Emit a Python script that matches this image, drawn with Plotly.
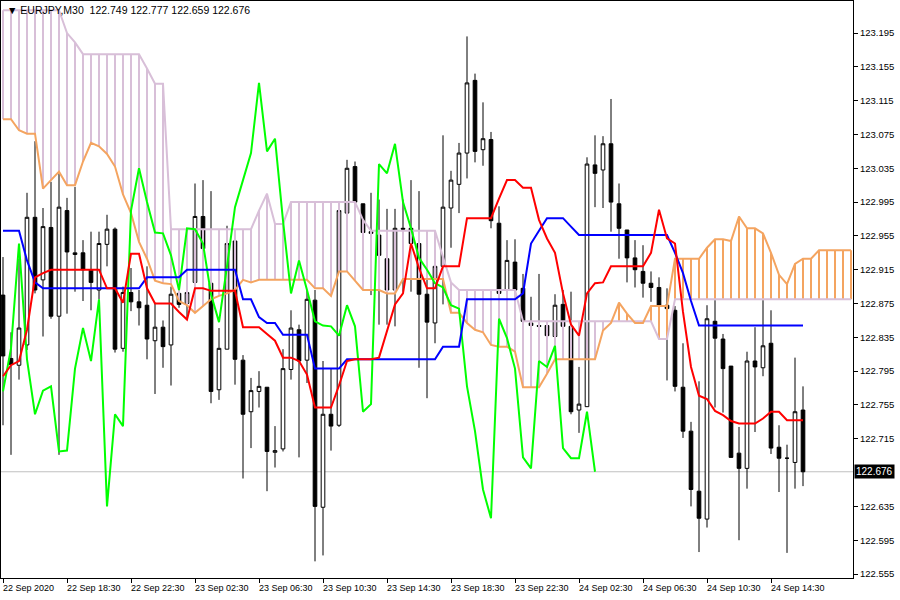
import plotly.graph_objects as go

# ---------------- data ----------------
tick_labels = ["22 Sep 2020", "22 Sep 18:30", "22 Sep 22:30", "23 Sep 02:30", "23 Sep 06:30",
               "23 Sep 10:30", "23 Sep 14:30", "23 Sep 18:30", "23 Sep 22:30", "24 Sep 02:30",
               "24 Sep 06:30", "24 Sep 10:30", "24 Sep 14:30"]
tick_bars = [0, 8, 16, 24, 32, 40, 48, 56, 64, 72, 80, 88, 96]

opens = [122.885, 122.810, 122.802, 122.826, 122.977, 122.903, 122.965, 122.860, 122.985, 122.933,
         122.935, 122.915, 122.891, 122.945, 122.963, 122.822, 122.888, 122.877, 122.873, 122.831,
         122.847, 122.826, 122.887, 122.875, 122.900, 122.978, 122.899, 122.773, 122.821, 122.949,
         122.808, 122.747, 122.771, 122.776, 122.699, 122.703, 122.797, 122.844, 122.808, 122.879,
         122.634, 122.744, 122.731, 122.982, 123.037, 122.993, 122.960, 122.956, 122.928, 122.891,
         122.964, 122.964, 122.946, 122.886, 122.852, 122.919, 122.988, 123.016, 123.053, 123.139,
         123.057, 123.069, 122.970, 122.891, 122.924, 122.893, 122.852, 122.849, 122.849, 122.836,
         122.874, 122.848, 122.749, 122.753, 123.039, 123.033, 123.064, 122.993, 122.962, 122.929,
         122.913, 122.899, 122.894, 122.873, 122.867, 122.776, 122.724, 122.653, 122.620, 122.854,
         122.833, 122.801, 122.698, 122.680, 122.807, 122.799, 122.828, 122.705, 122.692, 122.687,
         122.749]
highs = [122.930, 122.841, 122.928, 123.006, 123.067, 122.988, 123.019, 123.030, 123.000, 123.013,
         122.950, 122.960, 122.960, 122.980, 122.965, 122.895, 122.917, 122.891, 122.919, 122.876,
         122.855, 122.895, 122.902, 122.902, 123.017, 123.021, 123.008, 122.846, 122.967, 122.950,
         122.814, 122.787, 122.795, 122.776, 122.730, 122.821, 122.867, 122.850, 122.891, 122.891,
         122.807, 122.798, 122.985, 123.045, 123.043, 122.993, 123.006, 122.998, 122.987, 122.987,
         122.998, 123.021, 123.008, 122.946, 122.932, 123.074, 123.032, 123.065, 123.191, 123.147,
         123.113, 123.078, 122.990, 122.950, 122.951, 122.910, 122.883, 122.910, 122.852, 122.886,
         122.891, 122.889, 122.800, 123.048, 123.074, 123.073, 123.117, 123.017, 122.962, 122.950,
         122.944, 122.913, 122.906, 122.893, 122.872, 122.828, 122.735, 122.783, 122.873, 122.879,
         122.839, 122.801, 122.729, 122.818, 122.847, 122.879, 122.867, 122.731, 122.708, 122.811,
         122.777]
lows = [122.731, 122.696, 122.785, 122.820, 122.887, 122.836, 122.857, 122.696, 122.863, 122.889,
        122.878, 122.867, 122.880, 122.919, 122.817, 122.818, 122.866, 122.849, 122.809, 122.768,
        122.799, 122.778, 122.870, 122.858, 122.891, 122.874, 122.757, 122.761, 122.821, 122.779,
        122.668, 122.704, 122.752, 122.653, 122.681, 122.700, 122.785, 122.693, 122.781, 122.570,
        122.577, 122.701, 122.729, 122.982, 122.993, 122.956, 122.885, 122.850, 122.850, 122.848,
        122.889, 122.889, 122.799, 122.763, 122.828, 122.874, 122.941, 122.982, 123.023, 123.042,
        123.038, 122.964, 122.887, 122.891, 122.891, 122.854, 122.849, 122.807, 122.836, 122.836,
        122.848, 122.744, 122.722, 122.753, 122.989, 122.988, 122.960, 122.928, 122.900, 122.894,
        122.882, 122.877, 122.872, 122.784, 122.771, 122.716, 122.635, 122.581, 122.610, 122.752,
        122.746, 122.693, 122.595, 122.656, 122.723, 122.789, 122.697, 122.652, 122.580, 122.656,
        122.659]
closes = [122.813, 122.803, 122.846, 122.977, 122.891, 122.966, 122.860, 122.989, 122.936, 122.935,
          122.915, 122.900, 122.946, 122.963, 122.821, 122.888, 122.877, 122.870, 122.833, 122.847,
          122.824, 122.886, 122.874, 122.888, 122.978, 122.940, 122.771, 122.822, 122.946, 122.809,
          122.744, 122.772, 122.777, 122.700, 122.701, 122.798, 122.846, 122.807, 122.880, 122.635,
          122.744, 122.730, 122.985, 123.035, 122.995, 122.959, 122.958, 122.932, 122.891, 122.964,
          122.963, 122.946, 122.886, 122.853, 122.919, 122.989, 123.021, 123.053, 123.136, 123.055,
          123.070, 122.973, 122.887, 122.926, 122.891, 122.854, 122.849, 122.848, 122.837, 122.873,
          122.848, 122.747, 122.756, 123.040, 123.029, 123.064, 122.995, 122.964, 122.929, 122.915,
          122.899, 122.894, 122.873, 122.869, 122.777, 122.724, 122.655, 122.621, 122.857, 122.834,
          122.798, 122.693, 122.680, 122.807, 122.800, 122.825, 122.704, 122.692, 122.692, 122.747,
          122.676]

tenkan = [122.789, 122.802, 122.807, 122.844, 122.906, 122.911, 122.915, 122.915, 122.915, 122.915,
          122.915, 122.915, 122.915, 122.893, 122.893, 122.876, 122.934, 122.934, 122.893, 122.875,
          122.875, 122.875, 122.865, 122.856, 122.893, 122.893, 122.890, 122.890, 122.890, 122.890,
          122.847, 122.847, 122.847, 122.839, 122.831, 122.811, 122.811, 122.807, 122.791, 122.752,
          122.752, 122.752, 122.778, 122.807, 122.809, 122.809, 122.809, 122.811, 122.844, 122.874,
          122.887, 122.946, 122.917, 122.893, 122.893, 122.919, 122.919, 122.919, 122.976, 122.976,
          122.976, 122.976, 122.999, 123.021, 123.021, 123.012, 123.012, 122.974, 122.952, 122.935,
          122.887, 122.850, 122.837, 122.887, 122.899, 122.900, 122.919, 122.919, 122.919, 122.919,
          122.919, 122.935, 122.986, 122.952, 122.946, 122.865, 122.800, 122.766, 122.762, 122.748,
          122.743, 122.736, 122.733, 122.733, 122.733, 122.739, 122.747, 122.747, 122.737, 122.737,
          122.737]
kijun = [122.961, 122.961, 122.961, 122.926, 122.900, 122.893, 122.893, 122.893, 122.893, 122.893,
         122.893, 122.893, 122.893, 122.893, 122.893, 122.893, 122.893, 122.893, 122.906, 122.906,
         122.906, 122.906, 122.906, 122.915, 122.915, 122.915, 122.915, 122.915, 122.915, 122.915,
         122.880, 122.880, 122.859, 122.852, 122.852, 122.838, 122.838, 122.838, 122.838, 122.798,
         122.798, 122.798, 122.798, 122.809, 122.809, 122.809, 122.809, 122.809, 122.809, 122.809,
         122.809, 122.809, 122.809, 122.809, 122.809, 122.824, 122.824, 122.824, 122.880, 122.880,
         122.880, 122.880, 122.880, 122.880, 122.880, 122.887, 122.946, 122.961, 122.976, 122.976,
         122.976, 122.966, 122.956, 122.956, 122.956, 122.956, 122.956, 122.956, 122.956, 122.956,
         122.956, 122.956, 122.956, 122.956, 122.935, 122.911, 122.878, 122.849, 122.849, 122.849,
         122.849, 122.849, 122.849, 122.849, 122.849, 122.849, 122.849, 122.849, 122.849, 122.849,
         122.849]
span_a = [123.093, 123.093, 123.080, 123.076, 123.076, 123.011, 123.021, 123.031, 123.015, 123.015,
          123.043, 123.065, 123.061, 123.052, 123.037, 123.004, 122.982, 122.948, 122.928, 122.902,
          122.899, 122.898, 122.878, 122.873, 122.864, 122.872, 122.880, 122.884, 122.887, 122.891,
          122.903, 122.900, 122.903, 122.903, 122.903, 122.903, 122.903, 122.903, 122.903, 122.893,
          122.893, 122.884, 122.913, 122.913, 122.902, 122.891, 122.891, 122.891, 122.887, 122.887,
          122.904, 122.904, 122.904, 122.904, 122.904, 122.904, 122.864, 122.864, 122.852, 122.844,
          122.841, 122.826, 122.824, 122.824, 122.818, 122.776, 122.776, 122.776, 122.792, 122.809,
          122.809, 122.809, 122.809, 122.809, 122.809, 122.843, 122.852, 122.876, 122.863, 122.852,
          122.852, 122.872, 122.872, 122.872, 122.928, 122.928, 122.928, 122.928, 122.941, 122.951,
          122.951, 122.949, 122.978, 122.964, 122.964, 122.958, 122.935, 122.909, 122.898, 122.922,
          122.928, 122.928, 122.938, 122.938, 122.938, 122.938, 122.938]
span_b = [123.222, 123.222, 123.222, 123.222, 123.222, 123.222, 123.222, 123.222, 123.195, 123.184,
          123.170, 123.170, 123.170, 123.170, 123.170, 123.170, 123.170, 123.170, 123.153, 123.135,
          123.135, 122.963, 122.963, 122.963, 122.963, 122.963, 122.963, 122.963, 122.963, 122.963,
          122.963, 122.963, 122.985, 123.005, 122.969, 122.969, 122.995, 122.995, 122.995, 122.995,
          122.995, 122.995, 122.995, 122.995, 122.995, 122.974, 122.961, 122.961, 122.961, 122.961,
          122.961, 122.961, 122.961, 122.961, 122.961, 122.930, 122.900, 122.891, 122.891, 122.891,
          122.891, 122.891, 122.891, 122.891, 122.891, 122.854, 122.854, 122.854, 122.854, 122.854,
          122.854, 122.854, 122.854, 122.854, 122.854, 122.854, 122.854, 122.854, 122.854, 122.854,
          122.854, 122.854, 122.833, 122.833, 122.880, 122.880, 122.880, 122.880, 122.880, 122.880,
          122.880, 122.880, 122.880, 122.880, 122.880, 122.880, 122.880, 122.880, 122.880, 122.880,
          122.880, 122.880, 122.880, 122.880, 122.880, 122.880, 122.880]
price_ticks = [123.195, 123.155, 123.115, 123.075, 123.035, 122.995, 122.955, 122.915, 122.875,
               122.835, 122.795, 122.755, 122.715, 122.635, 122.595, 122.555]
last_price = 122.676
header = "▼ EURJPY,M30  122.749 122.777 122.659 122.676"
chikou_shift = 26

# ---------------- figure ----------------
bars = list(range(len(closes)))
cloud_x = list(range(len(span_a)))

hx_b, hy_b, hx_a, hy_a = [], [], [], []
for i, (a, b) in enumerate(zip(span_a, span_b)):
    if b > a:
        hx_b += [i, i, None]; hy_b += [a, b, None]
    else:
        hx_a += [i, i, None]; hy_a += [b, a, None]

SANDY = "#F4A460"
THISTLE = "#D8BFD8"

fig = go.Figure()
fig.add_trace(go.Scatter(x=hx_b, y=hy_b, mode="lines", line=dict(color=THISTLE, width=2), hoverinfo="skip"))
fig.add_trace(go.Scatter(x=hx_a, y=hy_a, mode="lines", line=dict(color=SANDY, width=2), hoverinfo="skip"))
fig.add_trace(go.Scatter(x=cloud_x, y=span_b, mode="lines", line=dict(color=THISTLE, width=2)))
fig.add_trace(go.Scatter(x=cloud_x, y=span_a, mode="lines", line=dict(color=SANDY, width=2)))
fig.add_trace(go.Candlestick(
    x=bars, open=opens, high=highs, low=lows, close=closes,
    increasing=dict(line=dict(color="black", width=1), fillcolor="white"),
    decreasing=dict(line=dict(color="black", width=1), fillcolor="black"),
    whiskerwidth=0,
))
chikou = closes[chikou_shift:]
fig.add_trace(go.Scatter(x=bars[:len(chikou)], y=chikou, mode="lines", line=dict(color="#00FF00", width=2)))
fig.add_trace(go.Scatter(x=bars, y=kijun, mode="lines", line=dict(color="#0000FF", width=2)))
fig.add_trace(go.Scatter(x=bars, y=tenkan, mode="lines", line=dict(color="#FF0000", width=2)))

fig.add_shape(type="line", xref="paper", x0=0, x1=1, yref="y", y0=last_price, y1=last_price,
              line=dict(color="#C0C0C0", width=1), layer="below")

FONT = "Liberation Sans, Arial, sans-serif"
for b, lab in zip(tick_bars, tick_labels):
    fig.add_annotation(x=b, xref="x", y=0, yref="paper", text=lab, showarrow=False,
                       xanchor="left", yanchor="top", yshift=-3, xshift=-2,
                       font=dict(family=FONT, size=9, color="black"))

fig.add_annotation(x=1, xref="paper", y=last_price, yref="y", text="122.676", showarrow=False,
                   xanchor="left", yanchor="middle", bgcolor="black", borderpad=1, xshift=1,
                   font=dict(family=FONT, size=10, color="white"))
fig.add_annotation(x=0, xref="paper", y=1, yref="paper", text=header, showarrow=False,
                   xanchor="left", yanchor="top", xshift=4, yshift=-1,
                   font=dict(family=FONT, size=10.5, color="black"))

fig.update_layout(
    width=900, height=600,
    margin=dict(l=1, r=47, t=1, b=22),
    paper_bgcolor="white", plot_bgcolor="white",
    showlegend=False, boxgap=0.35,
    xaxis=dict(range=[-0.25, 106.25], showgrid=False, zeroline=False,
               showline=True, linecolor="black", linewidth=1, mirror=True,
               tickmode="array", tickvals=tick_bars, ticks="outside", ticklen=4,
               tickcolor="black", showticklabels=False, rangeslider=dict(visible=False)),
    yaxis=dict(range=[122.5503, 123.2329], side="right", showgrid=False, zeroline=False,
               showline=True, linecolor="black", linewidth=1, mirror=True,
               tickmode="array", tickvals=price_ticks, ticktext=[f"{v:.3f}" for v in price_ticks],
               ticks="outside", ticklen=4, tickcolor="black",
               tickfont=dict(family=FONT, size=9.5, color="black")),
)

fig.write_html("out.html", config={"displayModeBar": False},
               post_script="document.body.style.margin='0px';")
